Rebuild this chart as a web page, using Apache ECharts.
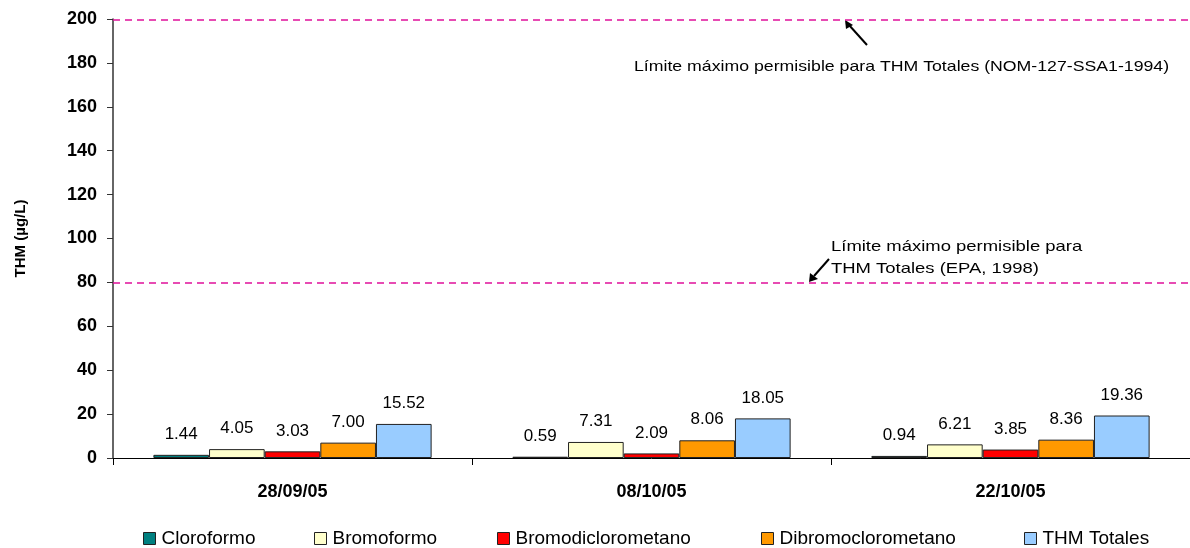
<!DOCTYPE html>
<html>
<head>
<meta charset="UTF-8">
<title>THM</title>
<script src="https://cdn.jsdelivr.net/npm/echarts@6/dist/echarts.min.js"></script>
<style>
  html, body { margin: 0; padding: 0; background: #fff; }
</style>
</head>
<body>
<div id="main" style="width: 1190px;height:548px;"></div>
<script type="text/javascript">
// datos
var fechas = ['28/09/05', '08/10/05', '22/10/05'];
var cloroformo = [1.44, 0.59, 0.94];
var bromoformo = [4.05, 7.31, 6.21];
var bromodiclorometano = [3.03, 2.09, 3.85];
var dibromoclorometano = [7.00, 8.06, 8.36];
var thmTotales = [15.52, 18.05, 19.36];
var limiteNOM = 199.5;
var limiteEPA = 80;

var nombres = ['Cloroformo', 'Bromoformo', 'Bromodiclorometano', 'Dibromoclorometano', 'THM Totales'];
var colores = ['#008080', '#FFFFCC', '#FF0000', '#FF9900', '#99CCFF'];
var valores = [cloroformo, bromoformo, bromodiclorometano, dibromoclorometano, thmTotales];
var leyendaX = [138, 309, 492, 756, 1019];

var fuente = 'Liberation Sans, Arial, sans-serif';

var myChart = echarts.init(document.getElementById('main'));

var series = nombres.map(function (n, i) {
  var s = {
    name: n,
    type: 'bar',
    data: valores[i],
    barCategoryGap: '22.5%',
    barGap: '0%',
    itemStyle: { color: colores[i], borderColor: '#222', borderWidth: 1 },
    label: {
      show: true,
      position: 'top',
      distance: 12,
      color: '#000',
      fontFamily: fuente,
      fontSize: 17,
      formatter: function (p) { return p.value.toFixed(2); }
    }
  };
  if (i === 0) {
    s.markLine = {
      silent: true,
      symbol: 'none',
      label: { show: false },
      lineStyle: { color: '#E0119A', type: [7, 5], width: 1.5 },
      data: [{ yAxis: limiteNOM }, { yAxis: limiteEPA }]
    };
  }
  return s;
});

// una leyenda por serie para fijar su posicion
var leyendas = nombres.map(function (n, i) {
  return {
    top: 524,
    left: leyendaX[i],
    itemWidth: 12,
    itemHeight: 12,
    itemGap: 6,
    icon: 'rect',
    itemStyle: { borderColor: '#222', borderWidth: 1 },
    textStyle: { fontFamily: fuente, fontSize: 19, color: '#000', padding: [0, 0, 0, 1] },
    data: [n]
  };
});

var option = {
  animation: false,
  grid: { left: 113, right: 0, top: 19, bottom: 90 },
  legend: leyendas,
  xAxis: {
    type: 'category',
    data: fechas,
    axisLine: { lineStyle: { color: '#000', width: 1 } },
    axisTick: { show: true, length: 7, lineStyle: { color: '#000' } },
    axisLabel: { color: '#000', fontFamily: fuente, fontSize: 18, fontWeight: 'bold', margin: 25 }
  },
  yAxis: {
    type: 'value',
    min: 0,
    max: 200,
    interval: 20,
    name: 'THM (µg/L)',
    nameLocation: 'middle',
    nameGap: 85,
    nameTextStyle: { color: '#000', fontFamily: fuente, fontSize: 15, fontWeight: 'bold' },
    axisLine: { show: true, lineStyle: { color: '#333', width: 1.5 } },
    axisTick: { show: true, length: 6, lineStyle: { color: '#333' } },
    splitLine: { show: false },
    axisLabel: { color: '#000', fontFamily: fuente, fontSize: 18, fontWeight: 'bold', margin: 16 }
  },
  graphic: [
    {
      type: 'text', x: 634, y: 59, scaleX: 1.18,
      style: { text: 'Límite máximo permisible para THM Totales (NOM-127-SSA1-1994)', fill: '#000', font: '15px ' + fuente }
    },
    {
      type: 'text', x: 831, y: 236, scaleX: 1.23,
      style: { text: 'Límite máximo permisible para\nTHM Totales (EPA, 1998)', fill: '#000', font: '15px ' + fuente, lineHeight: 22 }
    },
    { type: 'line', shape: { x1: 867, y1: 45, x2: 849, y2: 25 }, style: { stroke: '#000', lineWidth: 2 } },
    { type: 'polygon', shape: { points: [[845, 20], [853, 25], [846, 29]] }, style: { fill: '#000' } },
    { type: 'line', shape: { x1: 829, y1: 259, x2: 814, y2: 276 }, style: { stroke: '#000', lineWidth: 2 } },
    { type: 'polygon', shape: { points: [[809, 282], [810, 273], [818, 279]] }, style: { fill: '#000' } }
  ],
  series: series
};

myChart.setOption(option);
</script>
</body>
</html>
